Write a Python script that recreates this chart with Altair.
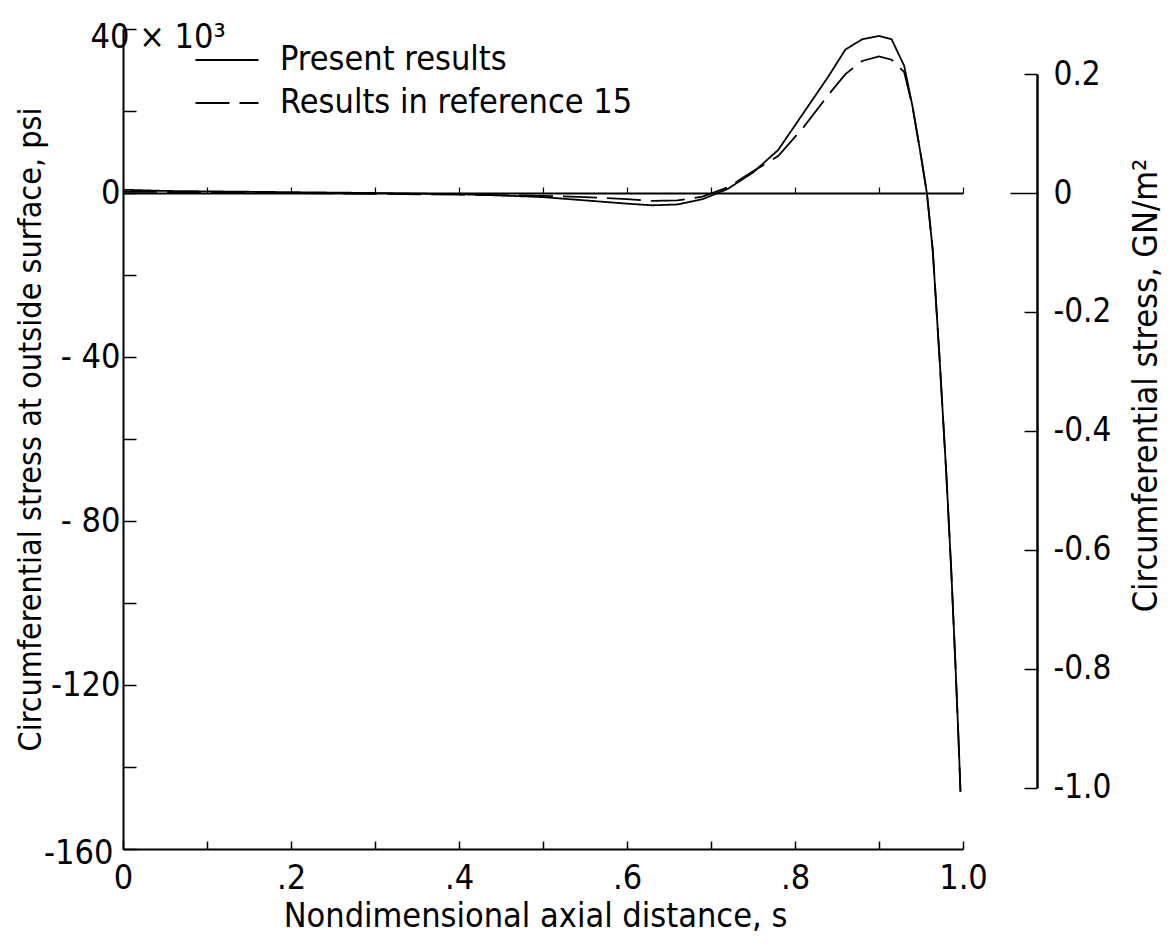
import altair as alt
import pandas as pd

# ---------------- data ----------------
s_present = [0, 0.05, 0.1, 0.2, 0.3, 0.4, 0.45, 0.5, 0.55, 0.6, 0.63, 0.66, 0.69, 0.72,
             0.75, 0.78, 0.81, 0.84, 0.86, 0.88, 0.90, 0.915, 0.93, 0.94, 0.95, 0.957,
             0.964, 0.972, 0.98, 0.986, 0.991, 0.995, 0.997]
v_present = [0.8, 0.5, 0.4, 0.2, 0.0, -0.3, -0.6, -1.0, -1.8, -2.6, -3.0, -2.8, -1.5, 1.0,
             5.0, 10.5, 19.5, 28.5, 35.0, 37.5, 38.3, 37.5, 31.0, 21.0, 9.0, 0.0,
             -14, -40, -68, -92, -115, -135, -146]

s_ref15 = [0, 0.1, 0.2, 0.3, 0.4, 0.5, 0.55, 0.6, 0.63, 0.66, 0.69, 0.72, 0.75, 0.78,
           0.81, 0.84, 0.86, 0.88, 0.90, 0.915, 0.93, 0.94, 0.95, 0.957, 0.964, 0.972,
           0.98, 0.986, 0.991, 0.995, 0.997]
v_ref15 = [0.3, 0.2, 0.0, -0.2, -0.4, -0.7, -1.0, -1.5, -1.9, -1.8, -0.9, 1.4, 5.3, 9.0,
           16.0, 24.0, 29.0, 32.2, 33.3, 32.5, 29.5, 21.0, 9.0, 0.0, -14, -40,
           -68, -92, -115, -135, -146]

series_names = ["Present results", "Results in reference 15"]

x_ticks = [0, 0.1, 0.2, 0.3, 0.4, 0.5, 0.6, 0.7, 0.8, 0.9, 1.0]
x_tick_labels = [(0, "0"), (0.2, ".2"), (0.4, ".4"), (0.6, ".6"), (0.8, ".8"), (1.0, "1.0")]

y_left_ticks = [40, 20, 0, -20, -40, -60, -80, -100, -120, -140, -160]
y_left_labels = [(40, "40 × 10³"), (0, "0"), (-40, "- 40"), (-80, "- 80"),
                 (-120, "-120"), (-160, "-160")]

y_right_ticks = [0.2, 0, -0.2, -0.4, -0.6, -0.8, -1.0]
y_right_labels = [(0.2, "0.2"), (0, "0"), (-0.2, "-0.2"), (-0.4, "-0.4"),
                  (-0.6, "-0.6"), (-0.8, "-0.8"), (-1.0, "-1.0")]

KSI_PER_GN = 145.038  # 1 GN/m^2 = 145.038 x 10^3 psi

# ---------------- layout ----------------
W, H = 840, 820
Y_MIN, Y_MAX = -160, 40
FONT = "DejaVu Sans Condensed, Liberation Sans Narrow, DejaVu Sans, sans-serif"


def label_expr(pairs):
    parts = [f"abs(datum.value - ({k})) < 1e-6 ? '{t}'" for k, t in pairs]
    return " : ".join(parts) + " : ''"


def ypix(v_ksi):
    return (Y_MAX - v_ksi) / (Y_MAX - Y_MIN) * H


df = pd.concat([
    pd.DataFrame({"s": s_present, "v": v_present, "series": series_names[0]}),
    pd.DataFrame({"s": s_ref15, "v": v_ref15, "series": series_names[1]}),
], ignore_index=True)
df["gn"] = df["v"] / KSI_PER_GN

x_axis_bottom = alt.Axis(
    orient="top", offset=-H, values=x_ticks, tickSize=8, tickWidth=1.5,
    tickColor="black", domainColor="black", domainWidth=1.8,
    labelExpr=label_expr(x_tick_labels), labelPadding=-20, labelBaseline="top",
    labelFlush=False, labelOverlap=False, labelFont=FONT, labelFontSize=34,
    labelColor="black", grid=False,
    title="Nondimensional axial distance, s", titleFont=FONT, titleFontSize=34,
    titleFontWeight="normal", titleColor="black", titleX=412, titleY=67,
    titleAlign="center", titleBaseline="middle", titleAngle=0,
)

y_axis_left = alt.Axis(
    orient="right", offset=-W, values=y_left_ticks, tickSize=13, tickWidth=1.5,
    tickColor="black", domainColor="black", domainWidth=2,
    labelExpr=label_expr(y_left_labels),
    labelAlign={"condition": {"test": "datum.value == 40", "value": "left"}, "value": "right"},
    labelPadding={"condition": [{"test": "datum.value == 40", "value": -46},
                                {"test": "datum.value == -160", "value": -23}], "value": -16},
    labelOffset={"condition": [{"test": "datum.value == 40", "value": 8},
                               {"test": "datum.value == -160", "value": 4}], "value": 0},
    labelFlush=False, labelOverlap=False, labelFont=FONT, labelFontSize=34,
    labelColor="black", grid=False,
    title="Circumferential stress at outside surface, psi", titleFont=FONT,
    titleFontSize=32, titleFontWeight="normal", titleColor="black",
    titleX=-93, titleY=400, titleAngle=270, titleAlign="center", titleBaseline="middle",
)

lines = alt.Chart(df).mark_line(strokeWidth=1.8, color="black", clip=False).encode(
    x=alt.X("s:Q", scale=alt.Scale(domain=[0, 1], nice=False, zero=False), axis=x_axis_bottom),
    y=alt.Y("v:Q", scale=alt.Scale(domain=[Y_MIN, Y_MAX], nice=False, zero=False), axis=y_axis_left),
    strokeDash=alt.StrokeDash(
        "series:N",
        scale=alt.Scale(domain=series_names, range=[[1, 0], [34, 10]]),
        legend=alt.Legend(
            orient="none", legendX=87, legendY=14, title=None, padding=0,
            symbolType="M-3,0H3", symbolSize=441, symbolStrokeWidth=2,
            symbolStrokeColor="black", labelFont=FONT, labelFontSize=34,
            labelColor="black", labelOffset=36, rowPadding=9, labelLimit=600,
        ),
    ),
    detail="series:N",
)

# right-hand GN/m^2 scale (exact unit conversion of the psi scale) and the zero line axis
y_axis_right = alt.Axis(
    orient="left", offset=-914, values=y_right_ticks,
    tickSize={"condition": {"test": "datum.value == 0", "value": 27}, "value": 13},
    tickWidth=1.5, tickColor="black", domainColor="black", domainWidth=2.5,
    labelExpr=label_expr(y_right_labels), labelAlign="left",
    labelPadding={"condition": {"test": "datum.value == 0", "value": -43}, "value": -29},
    labelFlush=False, labelOverlap=False, labelFont=FONT, labelFontSize=33,
    labelColor="black", grid=False,
    title="Circumferential stress,  GN/m²", titleFont=FONT, titleFontSize=34,
    titleFontWeight="normal", titleColor="black",
    titleX=109, titleY=356, titleAngle=270, titleAlign="center", titleBaseline="middle",
)

zero_axis = alt.Axis(
    orient="top", offset=-ypix(0), values=x_ticks, tickSize=6, tickWidth=1.2,
    tickColor="black", domainColor="black", domainWidth=1.8, labels=False,
    title=None, grid=False,
)

right_layer = alt.Chart(df).mark_line(opacity=0).encode(
    x=alt.X("s:Q", scale=alt.Scale(domain=[0, 1], nice=False, zero=False), axis=zero_axis),
    y=alt.Y("gn:Q",
            scale=alt.Scale(domain=[-1.0, 0.2], range=[ypix(-1.0 * KSI_PER_GN), ypix(0.2 * KSI_PER_GN)],
                            nice=False, zero=False),
            axis=y_axis_right),
    detail="series:N",
)

chart = alt.layer(lines, right_layer).resolve_scale(
    x="independent", y="independent", strokeDash="independent"
).resolve_axis(x="independent", y="independent").properties(
    width=W, height=H,
    autosize=alt.AutoSizeParams(type="none"),
    padding={"left": 115, "top": 21, "right": 200, "bottom": 93},
    background="white",
).configure_view(stroke=None)

chart.save("out.html", embed_options={"renderer": "svg", "actions": False})
